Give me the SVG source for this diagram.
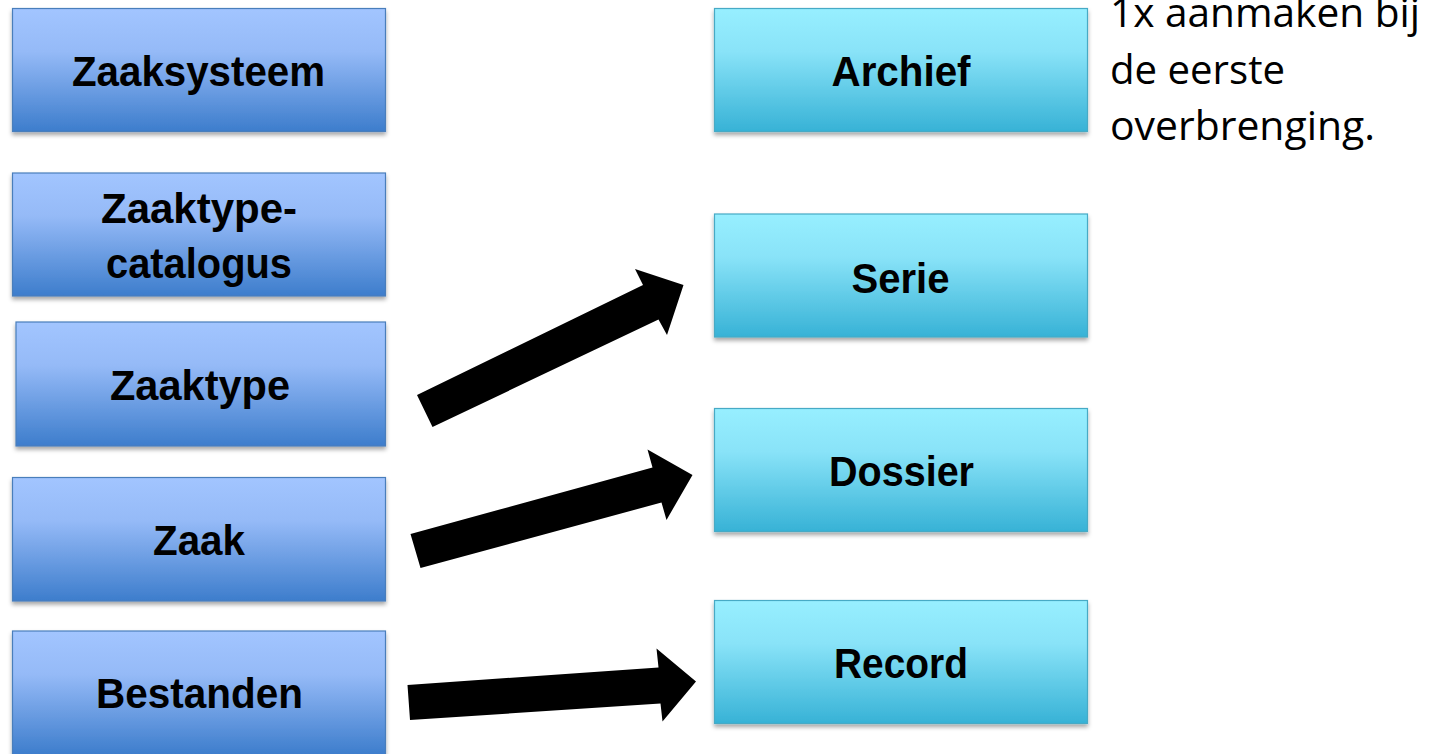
<svg xmlns="http://www.w3.org/2000/svg" width="1443" height="754" viewBox="0 0 1443 754">
<defs>
<linearGradient id="gBlue" x1="0" y1="0" x2="0" y2="1">
<stop offset="0" stop-color="#a2c5ff"/>
<stop offset="0.35" stop-color="#95baf7"/>
<stop offset="1" stop-color="#3d7dcc"/>
</linearGradient>
<linearGradient id="gCyan" x1="0" y1="0" x2="0" y2="1">
<stop offset="0" stop-color="#97efff"/>
<stop offset="0.35" stop-color="#89e3f8"/>
<stop offset="1" stop-color="#37b2d6"/>
</linearGradient>
<filter id="sh" x="-5%" y="-10%" width="110%" height="130%">
<feDropShadow dx="0" dy="3" stdDeviation="2" flood-color="#000" flood-opacity="0.35"/>
</filter>
</defs>
<style>
.lb{fill:url(#gBlue);stroke:#4a7ebb;stroke-width:1.2;filter:url(#sh)}
.rb{fill:url(#gCyan);stroke:#46aac5;stroke-width:1.2;filter:url(#sh)}
.t{font-family:"Liberation Sans",Arial,sans-serif;font-weight:bold;font-size:42px;fill:#000;text-anchor:middle}
.n{font-family:"Open Sans","Liberation Sans",sans-serif;font-size:41px;fill:#000}
.arrow{fill:#000}
</style>
<rect width="1443" height="754" fill="#fff"/>
<g id="zaaksysteem"><rect class="lb" x="12.5" y="8.5" width="373" height="123"/><text class="t" x="198.5" y="86" textLength="253" lengthAdjust="spacingAndGlyphs">Zaaksysteem</text></g>
<g id="zaaktypecatalogus"><rect class="lb" x="12.5" y="173" width="373" height="123"/><text class="t" x="199" y="223" textLength="196" lengthAdjust="spacingAndGlyphs">Zaaktype-</text><text class="t" x="199" y="278" textLength="186" lengthAdjust="spacingAndGlyphs">catalogus</text></g>
<g id="zaaktype"><rect class="lb" x="16" y="322" width="369.5" height="124"/><text class="t" x="200" y="400" textLength="180" lengthAdjust="spacingAndGlyphs">Zaaktype</text></g>
<g id="zaak"><rect class="lb" x="12.5" y="477.5" width="373" height="123.5"/><text class="t" x="199" y="555" textLength="92" lengthAdjust="spacingAndGlyphs">Zaak</text></g>
<g id="bestanden"><rect class="lb" x="12.5" y="631" width="373" height="124"/><text class="t" x="199.5" y="708" textLength="207" lengthAdjust="spacingAndGlyphs">Bestanden</text></g>
<g id="archief"><rect class="rb" x="714.5" y="8.5" width="373" height="123"/><text class="t" x="901" y="86" textLength="139" lengthAdjust="spacingAndGlyphs">Archief</text></g>
<g id="serie"><rect class="rb" x="714.5" y="214" width="373" height="123"/><text class="t" x="900.5" y="292.5" textLength="98" lengthAdjust="spacingAndGlyphs">Serie</text></g>
<g id="dossier"><rect class="rb" x="714.5" y="408.5" width="373" height="123"/><text class="t" x="901.5" y="486" textLength="145" lengthAdjust="spacingAndGlyphs">Dossier</text></g>
<g id="record"><rect class="rb" x="714.5" y="600.5" width="373" height="123"/><text class="t" x="901" y="678" textLength="134" lengthAdjust="spacingAndGlyphs">Record</text></g>
<g id="note">
<text class="n" x="1110" y="27" textLength="310" lengthAdjust="spacingAndGlyphs">1x aanmaken bij</text>
<text class="n" x="1110" y="83.5" textLength="175" lengthAdjust="spacingAndGlyphs">de eerste</text>
<text class="n" x="1110" y="140" textLength="265" lengthAdjust="spacingAndGlyphs">overbrenging.</text>
</g>
<g id="connectors">
<polygon class="arrow" points="417,395 643,285 635,269 683.5,285 667,335 658.5,319.5 432.5,427"/>
<polygon class="arrow" points="410.5,534 652.5,467.5 647.5,449.5 692.5,475 666.5,520 661.5,502.5 420.5,568"/>
<polygon class="arrow" points="407.5,685 658.5,667.5 656.5,648.5 696,681.5 662.5,721.5 660.5,703.5 410,720"/>
</g>
</svg>
